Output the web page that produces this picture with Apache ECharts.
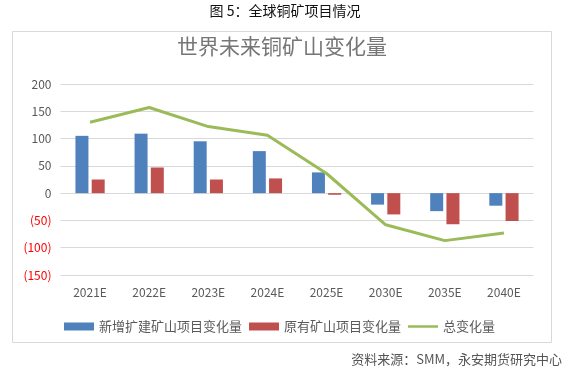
<!DOCTYPE html>
<html><head><meta charset="utf-8">
<script src="https://cdn.jsdelivr.net/npm/echarts@6/dist/echarts.min.js"></script>
<style>html,body{margin:0;padding:0;background:#fff}#c{width:570px;height:381px}</style>
</head><body><div id="c"></div>
<script>
const categories = ['2021E','2022E','2023E','2024E','2025E','2030E','2035E','2040E'];
const newProjects = [105, 109, 95, 77, 38, -21, -33, -23];
const existingProjects = [25, 47, 25, 27, -3, -39, -57, -51];
const totalChange = [130, 157, 122, 106, 36, -58, -87, -73];
const seriesNames = ['新增扩建矿山项目变化量', '原有矿山项目变化量', '总变化量'];
const yTicks = {min: -150, max: 200, interval: 50};

const font = '"Noto Sans CJK SC", "Noto Sans", sans-serif';
const chart = echarts.init(document.getElementById('c'), null, {renderer: 'canvas'});
chart.setOption({
  backgroundColor: '#ffffff',
  animation: false,
  textStyle: {fontFamily: font},
  graphic: [
    {type: 'rect', shape: {x: 12.5, y: 31.5, width: 539, height: 311}, style: {fill: 'none', stroke: '#d9d9d9', lineWidth: 1}},
    {type: 'text', left: 'center', top: 4, style: {text: '图 5：全球铜矿项目情况', fontSize: 14, fill: '#111', fontFamily: font}},
    {type: 'text', left: 177, top: 36, style: {text: '世界未来铜矿山变化量', fontSize: 21, fill: '#767676', fontFamily: font}},
    {type: 'text', right: 8, top: 353, style: {text: '资料来源：SMM，永安期货研究中心', fontSize: 13, fill: '#555', fontFamily: font}}
  ],
  grid: {left: 60.5, right: 36.5, top: 84, bottom: 106, containLabel: false},
  legend: {
    left: 59, top: 315, itemWidth: 30, itemHeight: 8, itemGap: 7,
    textStyle: {fontSize: 13, color: '#595959', fontFamily: font},
    data: [
      {name: seriesNames[0], icon: 'rect'},
      {name: seriesNames[1], icon: 'rect'},
      {name: seriesNames[2], icon: 'path://M0,0H0.01V0.01H0Z M0,2.8H30V5.2H0Z M0,7.99H0.01V8H0Z'}
    ]
  },
  xAxis: {
    type: 'category', data: categories,
    axisLine: {show: false}, axisTick: {show: false},
    axisLabel: {color: '#595959', fontSize: 12, margin: 11, fontFamily: font}
  },
  yAxis: {
    type: 'value', min: yTicks.min, max: yTicks.max, interval: yTicks.interval,
    axisLine: {show: false}, axisTick: {show: false},
    splitLine: {lineStyle: {color: '#d9d9d9', width: 1}},
    axisLabel: {
      fontSize: 12, margin: 9, fontFamily: font,
      formatter: v => v < 0 ? '(' + (-v) + ')' : String(v),
      color: v => (Number(v) < 0 ? '#ff0000' : '#595959')
    }
  },
  series: [
    {name: seriesNames[0], type: 'bar', data: newProjects, barWidth: 13, barGap: '25%', itemStyle: {color: '#4f81bd'}},
    {name: seriesNames[1], type: 'bar', data: existingProjects, barWidth: 13, itemStyle: {color: '#c0504d'}},
    {name: seriesNames[2], type: 'line', data: totalChange, symbol: 'none', lineStyle: {color: '#9bbb59', width: 3}, itemStyle: {color: '#9bbb59'}, z: 5}
  ]
});
</script></body></html>
